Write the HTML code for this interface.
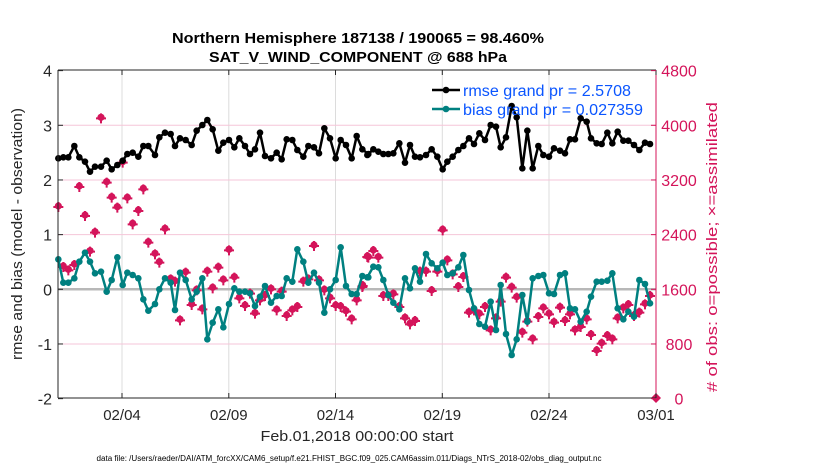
<!DOCTYPE html>
<html><head><meta charset="utf-8"><style>
html,body{margin:0;padding:0;background:#fff;}
svg{display:block;font-family:"Liberation Sans",Arial,sans-serif;}
</style></head><body>
<svg id="s" width="830" height="470" viewBox="0 0 830 470" xmlns="http://www.w3.org/2000/svg">
<rect width="830" height="470" fill="#fff"/>
<g id="grid"></g>
<text x="358" y="43" font-size="14.5" font-weight="bold" text-anchor="middle" textLength="372" lengthAdjust="spacingAndGlyphs">Northern Hemisphere 187138 / 190065 = 98.460%</text>
<text x="358" y="62" font-size="14.5" font-weight="bold" text-anchor="middle" textLength="298" lengthAdjust="spacingAndGlyphs">SAT_V_WIND_COMPONENT @ 688 hPa</text>
<g id="data"></g>
<g id="axes"></g>
<text transform="translate(22,234) rotate(-90)" font-size="15" text-anchor="middle" fill="#262626" textLength="252" lengthAdjust="spacingAndGlyphs">rmse and bias (model - observation)</text>
<text transform="translate(717,247) rotate(-90)" font-size="15" text-anchor="middle" fill="#d4145a" textLength="290" lengthAdjust="spacingAndGlyphs"># of obs: o=possible; ×=assimilated</text>
<text x="357" y="441" font-size="15" text-anchor="middle" fill="#262626" textLength="193" lengthAdjust="spacingAndGlyphs">Feb.01,2018 00:00:00 start</text>
<text x="349" y="461" font-size="8" text-anchor="middle" fill="#000" textLength="505" lengthAdjust="spacingAndGlyphs">data file: /Users/raeder/DAI/ATM_forcXX/CAM6_setup/f.e21.FHIST_BGC.f09_025.CAM6assim.011/Diags_NTrS_2018-02/obs_diag_output.nc</text>
<g id="leg">
<line x1="432" y1="90" x2="460" y2="90" stroke="#000" stroke-width="2.5"/><circle cx="446" cy="90" r="3.3" fill="#000"/>
<line x1="432" y1="109" x2="460" y2="109" stroke="#008080" stroke-width="2.5"/><circle cx="446" cy="109" r="3.3" fill="#008080"/>
<text x="463" y="96" font-size="15.5" fill="#0a55ff" textLength="168" lengthAdjust="spacingAndGlyphs">rmse grand pr = 2.5708</text>
<text x="463" y="115" font-size="15.5" fill="#0a55ff" textLength="180" lengthAdjust="spacingAndGlyphs">bias grand pr = 0.027359</text>
</g>
</svg>
<script>
var NS="http://www.w3.org/2000/svg";
function el(p,t,a){var e=document.createElementNS(NS,t);for(var k in a)e.setAttribute(k,a[k]);p.appendChild(e);return e;}
var L=58,R=656,T=70,B=398;
var g=document.getElementById('grid'),ax=document.getElementById('axes'),d=document.getElementById('data');
var xt=[122,228.8,335.5,442.3,549,656],xl=["02/04","02/09","02/14","02/19","02/24","03/01"];
xt.forEach(function(x){ if(x<R) el(g,'line',{x1:x,y1:T,x2:x,y2:B,stroke:"#dcdcdc","stroke-width":1});});
for(var v=-1;v<=3;v++){var y=289.3-v*54.67; if(v!=0) el(g,'line',{x1:L,y1:y,x2:R,y2:y,stroke:"#f5c6d8","stroke-width":1});}
el(g,'line',{x1:L,y1:289.3,x2:R,y2:289.3,stroke:"#b8b8b8","stroke-width":2.5});
el(ax,'line',{x1:L,y1:T,x2:R,y2:T,stroke:"#262626","stroke-width":1});
el(ax,'line',{x1:L,y1:B,x2:R,y2:B,stroke:"#262626","stroke-width":1});
el(ax,'line',{x1:L,y1:T,x2:L,y2:B,stroke:"#262626","stroke-width":1});
el(ax,'line',{x1:R,y1:T,x2:R,y2:B,stroke:"#d4145a","stroke-width":1});
xt.forEach(function(x,i){
 el(ax,'line',{x1:x,y1:B,x2:x,y2:B-5,stroke:"#262626"});
 el(ax,'line',{x1:x,y1:T,x2:x,y2:T+5,stroke:"#262626"});
 var t=el(ax,'text',{x:x,y:B+22,"font-size":15,"text-anchor":"middle",fill:"#262626"});t.textContent=xl[i];
});
for(var v=-2;v<=4;v++){var y=289.3-v*54.67;
 el(ax,'line',{x1:L,y1:y,x2:L+5,y2:y,stroke:"#262626"});
 var t=el(ax,'text',{x:L-6,y:y+6,"font-size":16,"text-anchor":"end",fill:"#262626"});t.textContent=v;
 el(ax,'line',{x1:R,y1:y,x2:R-5,y2:y,stroke:"#d4145a"});
 var t2=el(ax,'text',{x:679,y:y+6,"font-size":16,"text-anchor":"middle",fill:"#d4145a"});t2.textContent=(v+2)*800;
}
function conv(arr,ox){var o=[];for(var i=0;i<arr.length;i+=2)o.push([ox+arr[i]/3,60+arr[i+1]/3]);return o;}
var b1=[55,295,70,292,85,292,103,258,118,292,135,305,150,335,165,320,183,320,200,302,215,328,232,315,248,302,262,282,278,278,295,290,310,258,325,258,345,285,358,232,375,218,392,222,405,258,420,235,437,240,455,255,470,212,487,195,502,180,518,208,535,272,550,248,567,240,583,262,598,235,615,258,630,282,645,268,660,218,675,288,693,295,710,278,725,298,740,238,757,240,772,270,790,290,805,258,822,262,837,280,853,205,870,235,887,295,902,240,918,255,935,295,950,228,967,268,985,282];
var b2=[22,285,40,268,55,275,70,282,85,282,100,280,118,250,135,308,150,255,165,290,180,292,198,285,215,268,232,290,248,328,262,305,278,290,295,270,310,258,327,235,342,252,358,220,375,240,392,195,408,200,422,262,438,232,455,138,470,172,487,325,502,212,518,325,535,258,550,285,567,290,582,265,600,272,615,280,630,238,645,238,662,175,680,185,693,235,710,250,725,252,742,218,757,250,773,215,790,242,805,242,822,255,838,270,855,248,870,252];
var t1=[55,598,70,668,85,668,103,655,118,605,135,578,150,605,165,640,183,635,200,695,215,660,232,592,248,675,262,638,278,645,295,655,310,718,325,752,345,732,358,688,375,655,392,668,405,750,420,638,437,660,455,718,470,695,487,655,502,838,518,788,535,748,550,802,567,732,583,685,598,695,615,695,630,700,645,738,660,710,675,678,693,728,710,708,725,708,740,655,757,665,772,568,790,605,805,668,822,638,837,668,853,758,870,688,887,660,902,562,918,678,935,702,950,702,967,648,985,652];
var t2=[22,652,40,620,55,622,70,660,85,705,100,728,118,748,135,655,150,685,165,625,180,665,198,582,215,610,232,625,248,608,262,645,278,640,295,622,310,585,327,690,342,745,358,792,375,800,392,725,408,810,422,675,438,822,455,885,470,838,487,705,502,785,518,655,535,648,550,645,567,700,582,702,600,645,615,640,630,745,645,748,662,785,680,755,693,710,710,665,725,665,742,662,757,640,773,745,790,778,805,755,822,770,838,660,855,672,870,730];
var c1=[55,438,70,618,85,628,103,612,118,378,135,465,150,572,165,515,183,172,200,365,215,410,232,440,248,305,262,412,278,490,295,450,310,385,325,545,345,580,358,605,375,505,392,655,405,662,420,778,437,635,455,732,470,688,487,745,502,632,518,682,535,620,550,658,567,568,583,650,598,712,615,735,630,698,645,758,660,718,675,705,693,685,710,748,725,692,740,765,757,748,772,738,790,662,805,655,822,555,837,658,853,688,870,712,887,735,902,738,918,752,935,775,950,718,967,678,985,590];
var c2=[8,675,22,588,40,570,55,590,70,705,85,705,100,700,118,738,135,772,150,790,165,780,180,632,198,632,215,690,232,632,248,508,262,598,278,640,295,678,310,648,327,755,342,748,358,760,375,738,392,808,408,772,422,722,438,650,455,680,470,710,487,815,502,782,518,835,535,768,550,742,567,760,582,785,600,740,615,780,630,760,645,808,662,798,680,775,693,822,710,870,725,848,742,825,757,835,773,772,790,742,805,732,822,765,838,755,855,730,870,705];
function series(pts,col){
 el(d,'polyline',{points:pts.map(function(p){return p[0].toFixed(1)+","+p[1].toFixed(1)}).join(" "),fill:"none",stroke:col,"stroke-width":2.5,"stroke-linejoin":"round"});
 pts.forEach(function(p){el(d,'circle',{cx:p[0],cy:p[1],r:3.3,fill:col});});
}
var C="#d4145a";
conv(c1,40).concat(conv(c2,360)).forEach(function(p){
 el(d,'circle',{cx:p[0],cy:p[1],r:3.6,fill:C});
 el(d,'path',{d:"M"+(p[0]-5)+" "+(p[1]+1)+"h10M"+p[0]+" "+(p[1]-4)+"v10",stroke:C,"stroke-width":2});
});
series(conv(t1,40).concat(conv(t2,360)),"#008080");
series(conv(b1,40).concat(conv(b2,360)),"#000");
el(d,'path',{d:"M651 398L656 393L661 398L656 403Z",fill:C});
</script>
</body></html>
